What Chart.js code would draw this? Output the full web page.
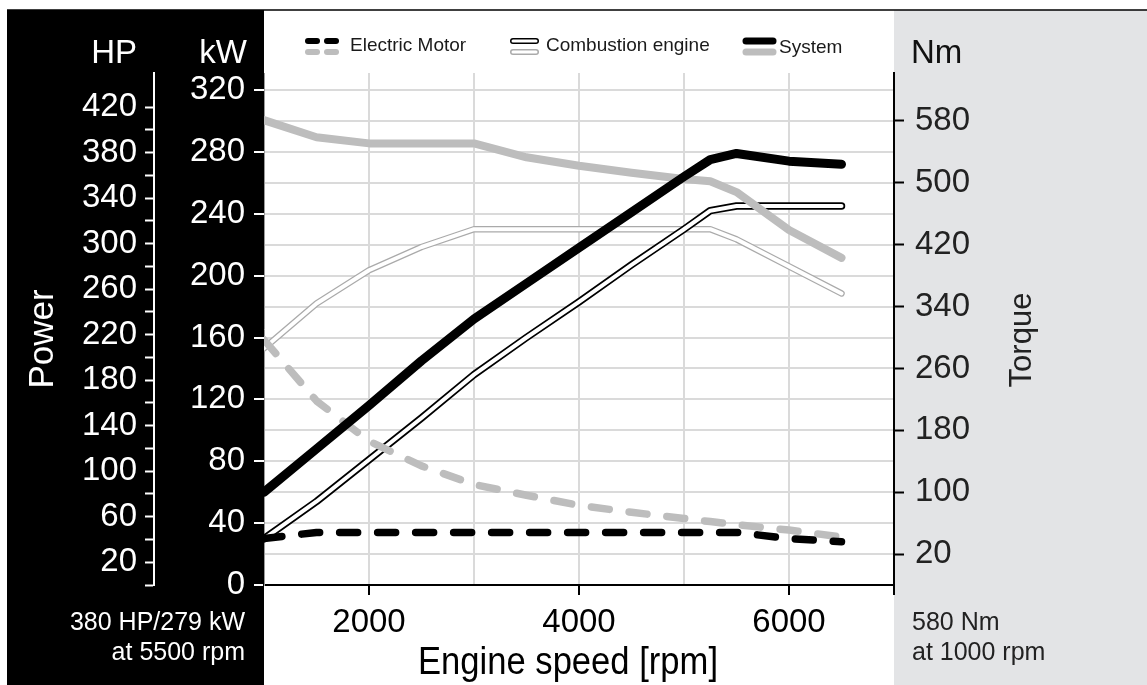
<!DOCTYPE html>
<html>
<head>
<meta charset="utf-8">
<script src="https://cdn.jsdelivr.net/npm/chart.js@4.4.1/dist/chart.umd.min.js"></script>
<style>
  html, body { margin: 0; padding: 0; background: #fff; }
  #wrap { width: 1147px; height: 685px; position: relative; }
</style>
</head>
<body>
<div id="wrap"><canvas id="ch"></canvas></div>
<script>
// engine speed [rpm]
const rpm = [1000, 1500, 2000, 2500, 3000, 3500, 4000, 4500, 5000, 5250, 5500, 6000, 6500];
// power [kW]
const systemPower = [60, 88, 116, 145, 172, 195, 218, 241, 264, 275, 279, 274, 272];
const combPower = [30, 54, 81, 108, 136, 160, 183, 207, 230, 242, 245, 245, 245];
const elecPower = [30, 34, 34, 34, 34, 34, 34, 34, 34, 34, 34, 30, 28];
// torque [Nm]
const systemTorque = [581, 559, 551, 551, 551, 533, 522, 513, 505, 502, 488, 439, 403];
const combTorque = [286, 344, 387, 417, 440, 440, 440, 440, 440, 440, 427, 392, 357];
const elecTorque = [297, 218, 166, 134, 110, 96, 83, 74, 66, 62, 58, 51, 42];

// axis ticks
const rpmTicks = [1000, 2000, 3000, 4000, 5000, 6000, 7000];
const kwTicks = [0, 20, 40, 60, 80, 100, 120, 140, 160, 180, 200, 220, 240, 260, 280, 300, 320];
const hpTicks = [0, 20, 40, 60, 80, 100, 120, 140, 160, 180, 200, 220, 240, 260, 280, 300, 320, 340, 360, 380, 400, 420];
const nmTicks = [20, 100, 180, 260, 340, 420, 500, 580];

const KW_MAX = 331;
const KW_PER_HP = 0.7355;
const FONT = '"Liberation Sans", Arial, Helvetica, sans-serif';
Chart.defaults.font.family = FONT;

const pts = vals => vals.map((v, i) => ({ x: rpm[i], y: v }));
const BLACK = '#000', GREY = '#bdbdbd', GRID = '#dadada';

function line(data, axis, color, width, order, dash) {
  return {
    data: pts(data), yAxisID: axis, borderColor: color, borderWidth: width,
    borderDash: dash || [], borderCapStyle: 'round', borderJoinStyle: 'round',
    pointRadius: 0, tension: 0, fill: false, order
  };
}

const tickFix = list => scale => { scale.ticks = list.map(v => ({ value: v })); };

// panels, legend and the extra texts
const decor = {
  id: 'decor',
  beforeDraw(chart) {
    const c = chart.ctx;
    c.save();
    c.fillStyle = '#fff'; c.fillRect(0, 0, chart.width, chart.height);
    c.fillStyle = '#000'; c.fillRect(7, 10, 257, 675);
    c.fillStyle = '#e3e4e6'; c.fillRect(894, 10, 253, 675);
    c.strokeStyle = '#000'; c.lineWidth = 1.5;
    c.beginPath(); c.moveTo(7, 10); c.lineTo(1147, 10); c.stroke();
    c.restore();
  },
  afterDraw(chart) {
    const c = chart.ctx;
    c.save();
    c.textBaseline = 'alphabetic';
    // unit labels
    c.font = '33px ' + FONT;
    c.fillStyle = '#fff';
    c.textAlign = 'right';
    c.fillText('HP', 137, 63);
    c.fillText('kW', 247, 63);
    c.fillStyle = '#111';
    c.textAlign = 'left';
    c.fillText('Nm', 911, 63);

    // notes under the axes
    c.font = '25px ' + FONT;
    c.fillStyle = '#fff';
    c.textAlign = 'right';
    c.fillText('380 HP/279 kW', 245, 630);
    c.fillText('at 5500 rpm', 245, 660);
    c.fillStyle = '#222';
    c.textAlign = 'left';
    c.fillText('580 Nm', 912, 630);
    c.fillText('at 1000 rpm', 912, 660);

    // axis titles
    c.textAlign = 'center';
    c.textBaseline = 'middle';
    c.save();
    c.translate(43, 339); c.rotate(-Math.PI / 2);
    c.font = '35px ' + FONT; c.fillStyle = '#fff';
    c.fillText('Power', 0, 0);
    c.restore();
    c.save();
    c.translate(1022, 340); c.rotate(-Math.PI / 2);
    c.font = '31px ' + FONT; c.fillStyle = '#222';
    c.fillText('Torque', 0, 0);
    c.restore();
    c.save();
    c.font = '39px ' + FONT; c.fillStyle = '#000';
    c.textBaseline = 'alphabetic';
    const t = 'Engine speed [rpm]';
    const w = c.measureText(t).width;
    c.translate(568, 674); c.scale(300 / w, 1);
    c.fillText(t, 0, 0);
    c.restore();

    // legend
    const seg = (x1, x2, y, col, lw) => {
      c.strokeStyle = col; c.lineWidth = lw; c.lineCap = 'round';
      c.beginPath(); c.moveTo(x1, y); c.lineTo(x2, y); c.stroke();
    };
    seg(308, 317, 41, BLACK, 6); seg(327, 336, 41, BLACK, 6);
    seg(308, 317, 52, GREY, 6); seg(327, 336, 52, GREY, 6);
    seg(513, 536, 41, BLACK, 6); seg(513, 536, 41, '#fff', 3);
    seg(513, 536, 52, '#aaa', 6); seg(513, 536, 52, '#fff', 3);
    seg(746, 773, 41, BLACK, 7); seg(746, 773, 52, GREY, 7);
    c.font = '19px ' + FONT; c.fillStyle = '#1a1a1a';
    c.textAlign = 'left'; c.textBaseline = 'middle';
    c.fillText('Electric Motor', 350, 46);
    c.fillText('Combustion engine', 546, 46);
    c.fillText('System', 779, 48);
    c.restore();
  }
};

new Chart(document.getElementById('ch'), {
  type: 'line',
  data: {
    datasets: [
      line(systemPower, 'kw', BLACK, 9, 1),
      line(systemTorque, 'nm', GREY, 8, 2),
      line(elecPower, 'kw', BLACK, 7.5, 3, [18, 20]),
      line(elecTorque, 'nm', GREY, 7.5, 4, [18, 20]),
      line(combPower, 'kw', '#fff', 4, 5),
      line(combPower, 'kw', BLACK, 7.5, 6),
      line(combTorque, 'nm', '#fff', 4, 7),
      line(combTorque, 'nm', '#aaa', 6.5, 8)
    ]
  },
  options: {
    responsive: true,
    maintainAspectRatio: false,
    animation: false,
    layout: { padding: { top: 73, left: 0, right: 0, bottom: 0 } },
    plugins: { legend: { display: false }, tooltip: { enabled: false } },
    scales: {
      x: {
        type: 'linear', position: 'bottom', min: 1000, max: 7000,
        afterBuildTicks: tickFix(rpmTicks),
        afterFit: s => { s.height = 100; },
        ticks: {
          color: '#000', font: { size: 33 }, padding: 8, maxRotation: 0, autoSkip: false,
          callback: v => (v % 2000 === 0 && v < 7000) ? String(v) : ''
        },
        grid: {
          color: c => (c.tick && (c.tick.value === 1000 || c.tick.value === 7000)) ? 'rgba(0,0,0,0)' : GRID,
          lineWidth: 2, tickLength: 10, tickWidth: 2,
          tickColor: c => (c.tick && (c.tick.value % 2000 === 0 || c.tick.value === 7000)) ? '#000' : 'rgba(0,0,0,0)'
        },
        border: { color: '#000', width: 2 }
      },
      kw: {
        type: 'linear', position: 'left', weight: 0, min: 0, max: KW_MAX,
        afterBuildTicks: tickFix(kwTicks),
        afterFit: s => { s.width = 110; },
        ticks: {
          color: '#fff', font: { size: 33 }, padding: 9, autoSkip: false,
          callback: v => v % 40 === 0 ? String(v) : ''
        },
        grid: {
          color: GRID, lineWidth: 2, tickLength: 10, tickWidth: 2,
          tickColor: c => (c.tick && c.tick.value % 40 === 0) ? '#fff' : 'rgba(0,0,0,0)'
        },
        border: { color: '#9a9a9a', width: 1 }
      },
      hp: {
        type: 'linear', position: 'left', weight: 1, min: 0, max: KW_MAX / KW_PER_HP,
        afterBuildTicks: tickFix(hpTicks),
        afterFit: s => { s.width = 154; },
        ticks: {
          color: '#fff', font: { size: 33 }, padding: 8, autoSkip: false,
          callback: v => (v - 20) % 40 === 0 ? String(v) : ''
        },
        grid: { drawOnChartArea: false, tickLength: 9, tickWidth: 2, tickColor: '#fff' },
        border: { color: '#fff', width: 2 }
      },
      nm: {
        type: 'linear', position: 'right', min: -20, max: 2 * KW_MAX - 20,
        afterBuildTicks: tickFix(nmTicks),
        afterFit: s => { s.width = 253; },
        ticks: { color: '#222', font: { size: 33 }, padding: 11, autoSkip: false },
        grid: { drawOnChartArea: false, tickLength: 10, tickWidth: 2, tickColor: '#000' },
        border: { color: '#000', width: 2 }
      }
    }
  },
  plugins: [decor]
});
</script>
</body>
</html>
